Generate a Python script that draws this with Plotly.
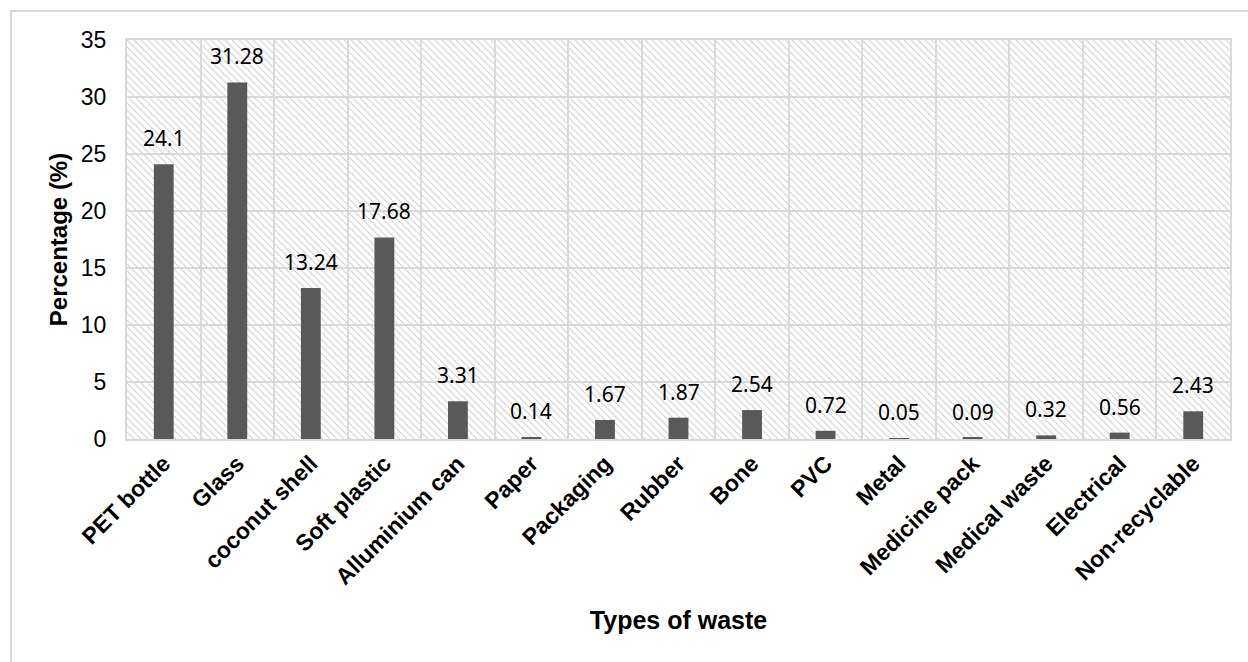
import base64
import plotly.graph_objects as go

# Waste composition by type
categories = ["PET bottle", "Glass", "coconut shell", "Soft plastic", "Alluminium can",
              "Paper", "Packaging", "Rubber", "Bone", "PVC", "Metal", "Medicine pack",
              "Medical waste", "Electrical", "Non-recyclable"]
percentages = [24.1, 31.28, 13.24, 17.68, 3.31, 0.14, 1.67, 1.87, 2.54, 0.72,
               0.05, 0.09, 0.32, 0.56, 2.43]
value_labels = ["24.1", "31.28", "13.24", "17.68", "3.31", "0.14", "1.67", "1.87",
                "2.54", "0.72", "0.05", "0.09", "0.32", "0.56", "2.43"]
y_ticks = [0, 5, 10, 15, 20, 25, 30, 35]

W, H = 1248, 662
ML, MR, MT, MB = 127, 18, 40, 223
PW, PH = W - ML - MR, H - MT - MB

# Diagonal hatch used as the plot-area background
hatch_svg = (
    f'<svg xmlns="http://www.w3.org/2000/svg" width="{PW}" height="{PH}" '
    f'viewBox="0 0 {PW} {PH}" preserveAspectRatio="none">'
    '<defs><pattern id="h" width="7" height="7" patternUnits="userSpaceOnUse">'
    '<path d="M0,0 L7,7 M-1,6 L1,8 M6,-1 L8,1" stroke="#d4d4d4" stroke-width="1.2"/>'
    '</pattern></defs><rect width="100%" height="100%" fill="url(#h)"/></svg>'
)
hatch_uri = "data:image/svg+xml;base64," + base64.b64encode(hatch_svg.encode()).decode()

fig = go.Figure()
fig.add_trace(go.Bar(
    x=categories, y=percentages, width=0.27,
    marker=dict(color="#595959", line=dict(width=0)),
    hoverinfo="x+y",
))

# Value labels above each bar
for cat, val, lab in zip(categories, percentages, value_labels):
    fig.add_annotation(
        x=cat, y=val, text=lab, showarrow=False, xanchor="center", yanchor="bottom",
        yshift=10, font=dict(family="Noto Sans", size=21, color="#000000"),
    )

fig.add_layout_image(
    source=hatch_uri, xref="paper", yref="paper", x=0, y=1, sizex=1, sizey=1,
    xanchor="left", yanchor="top", sizing="stretch", layer="below",
)

# Light frame around the whole chart
fig.add_shape(
    type="rect", xref="paper", yref="paper",
    x0=(11 - ML) / PW, x1=(W + 20 - ML) / PW,
    y0=-(H + 20 - MT - PH) / PH, y1=(MT + PH - 11) / PH,
    line=dict(color="#d9d9d9", width=2), fillcolor="rgba(0,0,0,0)", layer="below",
)

fig.update_layout(
    width=W, height=H,
    margin=dict(l=ML, r=MR, t=MT, b=MB),
    paper_bgcolor="white", plot_bgcolor="rgba(0,0,0,0)",
    showlegend=False,
    bargap=0.73,
    font=dict(family="Liberation Sans", color="#000000"),
)

fig.update_xaxes(
    type="category", tickson="boundaries", tickangle=-45,
    showgrid=True, gridcolor="#d9d9d9", gridwidth=1.5,
    showline=True, linecolor="#d9d9d9", linewidth=2, mirror=True,
    ticks="", tickfont=dict(family="Liberation Sans", size=23, color="#000000",
                             weight="bold"),
    title=dict(text="<b>Types of waste</b>", font=dict(size=25, family="Liberation Sans"),
               standoff=23),
    automargin=False,
)

fig.update_yaxes(
    range=[0, 35], tickvals=y_ticks, ticktext=[str(v) for v in y_ticks],
    showgrid=True, gridcolor="#d9d9d9", gridwidth=1.5, zeroline=False,
    showline=True, linecolor="#d9d9d9", linewidth=2, mirror=True,
    ticks="", ticklabelstandoff=14,
    tickfont=dict(family="Liberation Sans", size=23, color="#000000"),
    title=dict(text="<b>Percentage (%)</b>", font=dict(size=24, family="Liberation Sans"),
               standoff=6),
    automargin=False,
)

fig.write_html("out.html")
